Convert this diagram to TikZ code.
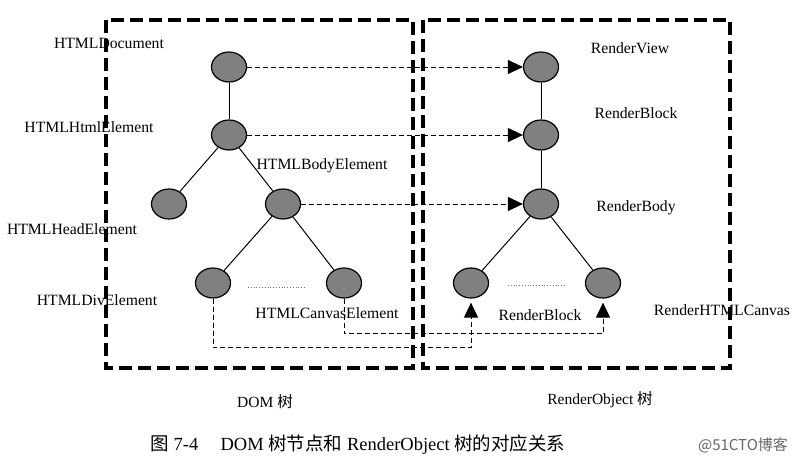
\documentclass[tikz,border=0pt]{standalone}
\usepackage{fontspec}
\setmainfont{Liberation Serif}
\newfontfamily\cjk{Noto Sans CJK SC}
\usetikzlibrary{shapes.geometric, arrows.meta}

\begin{document}
\begin{tikzpicture}[x=1pt, y=-1pt,
                        every node/.style={font=\fontsize{15.7}{18}\selectfont},
                        treenode/.style={ellipse, draw=black, line width=1.2pt, fill=black!50, minimum width=35pt, minimum height=30pt, inner sep=0pt},
                        treeedge/.style={draw, line width=1pt},
                        treebox/.style={draw, line width=3.3pt, dash pattern=on 13pt off 6pt},
                        maplink/.style={draw, line width=1pt, dash pattern=on 5pt off 3pt, -{Triangle[length=15pt, width=14pt]}}]
                        \useasboundingbox (0,0) rectangle (800,466);

                        % Frames
                        \draw[treebox] (106,20) rectangle (413,368);
                        \draw[treebox] (423,20) rectangle (730,368);

                        % DOM tree
                        \node[treenode] (doc) at (229,67) {}; % HTMLDocument
                        \node[treenode] (html) at (229,135) {}; % HTMLHtmlElement
                        \node[treenode] (head) at (169,204) {}; % HTMLHeadElement
                        \node[treenode] (body) at (283,204) {}; % HTMLBodyElement
                        \node[treenode] (div) at (213,283) {}; % HTMLDivElement
                        \node[treenode] (canvas) at (344,283) {}; % HTMLCanvasElement

                        % RenderObject tree
                        \node[treenode] (rview) at (541,67) {}; % RenderView
                        \node[treenode] (rblock) at (541,135) {}; % RenderBlock
                        \node[treenode] (rbody) at (541,204) {}; % RenderBody
                        \node[treenode] (rdiv) at (471,283) {}; % RenderBlock
                        \node[treenode] (rcanvas) at (603,283) {}; % RenderHTMLCanvas

                        % Labels
                        \node (ldoc) at (109,43) {HTMLDocument};
                        \node (lhtml) at (89,127) {HTMLHtmlElement};
                        \node (lbody) at (322,166) {HTMLBodyElement};
                        \node (lhead) at (72,229) {HTMLHeadElement};
                        \node (ldiv) at (97,300) {HTMLDivElement};
                        \node (lcanvas) at (327,313) {HTMLCanvasElement};
                        \node (lrview) at (630,48) {RenderView};
                        \node (lrblock) at (636,113) {RenderBlock};
                        \node (lrbody) at (636,208) {RenderBody};
                        \node (lrdiv) at (540,315) {RenderBlock};
                        \node (lrcanvas) at (722,310) {RenderHTMLCanvas};

                        % Define edges
                        \path [treeedge](doc) edge (html);
                        \path [treeedge](html) edge (head);
                        \path [treeedge](html) edge (body);
                        \path [treeedge](body) edge (div);
                        \path [treeedge](body) edge (canvas);
                        \path [treeedge](rview) edge (rblock);
                        \path [treeedge](rblock) edge (rbody);
                        \path [treeedge](rbody) edge (rdiv);
                        \path [treeedge](rbody) edge (rcanvas);

                        % Siblings left out
                        \draw[black!55, line width=0.8pt, dotted] (248,287) -- (306,287);
                        \draw[black!55, line width=0.8pt, dotted] (508,285) -- (566,285);

                        % DOM to RenderObject
                        \path [maplink](doc) edge (rview);
                        \path [maplink](html) edge (rblock);
                        \path [maplink](body) edge (rbody);
                        \draw [maplink, shorten >=4pt](div.south) -- ++(0,49) -| (rdiv.south);
                        \draw [maplink, shorten >=4pt](canvas.south) -- ++(0,35) -| (rcanvas.south);

                        % Captions
                        \node[font=\fontsize{15.5}{18}\selectfont] (domtree) at (265,402) {DOM {\cjk 树}};
                        \node[font=\fontsize{15.5}{18}\selectfont] (rotree) at (600,400) {RenderObject {\cjk 树}};
                        \node[font=\fontsize{18.5}{22}\selectfont] (caption) at (358,445) {{\cjk 图} 7-4\hspace{1.2em}DOM {\cjk 树节点和} RenderObject {\cjk 树的对应关系}};
                        \node[font=\cjk\fontsize{15}{18}\selectfont, text=black!60] (mark) at (743,445) {@51CTO博客};
                    \end{tikzpicture}
\end{document}
